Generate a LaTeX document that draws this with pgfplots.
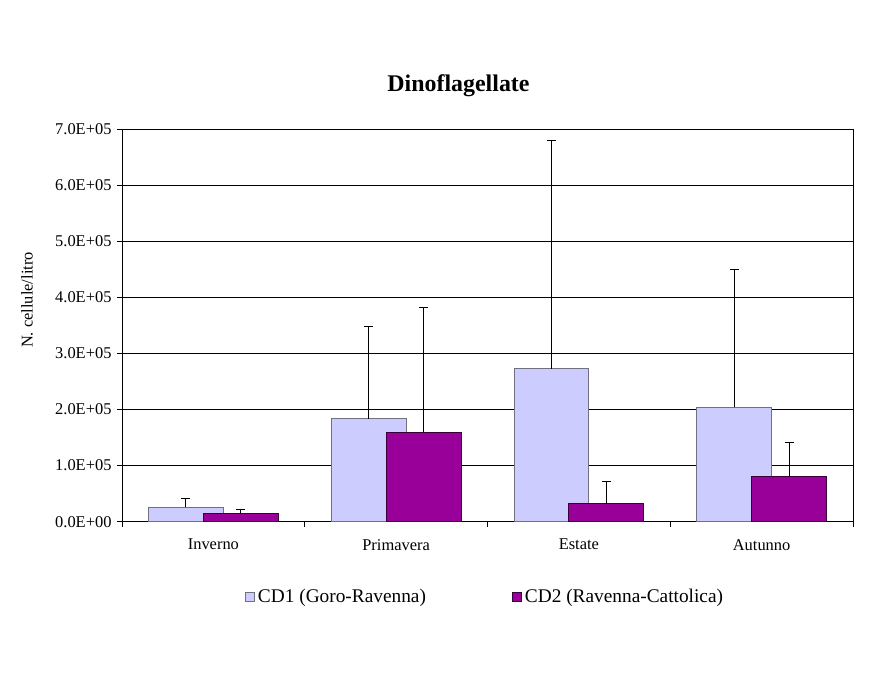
\documentclass[border=0pt]{standalone}
\usepackage{pgfplots}
\pgfplotsset{compat=1.18}
\usepackage{fontspec}
\setmainfont{Liberation Serif}
\definecolor{cdone}{HTML}{CCCCFF}
\definecolor{cdonedraw}{HTML}{707080}
\definecolor{cdtwo}{HTML}{990099}
\definecolor{cdtwodraw}{HTML}{3A003A}
\begin{document}
\begin{tikzpicture}
\path[use as bounding box] (0bp,0bp) rectangle (882bp,682bp);
\node at (458.5bp,596bp) {\fontsize{24}{28}\selectfont\bfseries Dinoflagellate};
\begin{axis}[
  at={(122bp,160.3bp)}, anchor=south west,
  scale only axis, width=731bp, height=392.4bp,
  xmin=-0.5, xmax=3.5, ymin=0, ymax=700000,
  axis line style={black, line width=0.9bp},
  ytick={0,100000,200000,300000,400000,500000,600000,700000},
  yticklabels={0.0E+00,1.0E+05,2.0E+05,3.0E+05,4.0E+05,5.0E+05,6.0E+05,7.0E+05},
  scaled y ticks=false,
  ymajorgrids, major grid style={black, line width=0.9bp},
  xtick={-0.5,0.5,1.5,2.5,3.5}, xticklabels={},
  extra x ticks={0,1,2,3},
  extra x tick labels={Inverno,Primavera,Estate,Autunno},
  extra x tick style={major tick length=0pt, xticklabel style={yshift=-14bp}},
  tick align=outside, major tick length=5bp,
  tick style={black, line width=0.9bp},
  xtick pos=bottom, ytick pos=left,
  tick label style={font=\fontsize{16.5}{19}\selectfont},
  yticklabel style={xshift=-2bp},
  ylabel={N. cellule/litro},
  ylabel style={at={(axis description cs:-0.13,0.565)}, anchor=center, font=\fontsize{16.5}{19}\selectfont},
  legend columns=2,
  legend style={at={(axis description cs:0.168,-0.192)}, anchor=west, draw=none, inner sep=0pt,
    font=\fontsize{19.4}{22}\selectfont,
    /tikz/every odd column/.append style={column sep=1bp},
    /tikz/every even column/.append style={column sep=84bp}},
  legend image code/.code={\draw[#1] (0bp,-4.5bp) rectangle (9bp,4.5bp);},
  error bars/y dir=plus, error bars/y explicit,
  error bars/error mark=-,
  error bars/error bar style={black, line width=1bp},
  error bars/error mark options={black, line width=1bp, mark size=4.5bp, rotate=90},
]
\addplot[ybar, bar width=0.41, bar shift=0, fill=cdone, draw=cdonedraw, line width=1bp]
  coordinates {(-0.15,25700) +- (0,14800) (0.85,183700) +- (0,164800) (1.85,272400) +- (0,407600) (2.85,204000) +- (0,246000)};
\addlegendentry{CD1 (Goro-Ravenna)}
\addplot[ybar, bar width=0.41, bar shift=0, fill=cdtwo, draw=cdtwodraw, line width=1bp]
  coordinates {(0.15,15000) +- (0,6400) (1.15,159500) +- (0,222500) (2.15,32000) +- (0,39000) (3.15,81000) +- (0,60600)};
\addlegendentry{CD2 (Ravenna-Cattolica)}
\end{axis}
\end{tikzpicture}
\end{document}
